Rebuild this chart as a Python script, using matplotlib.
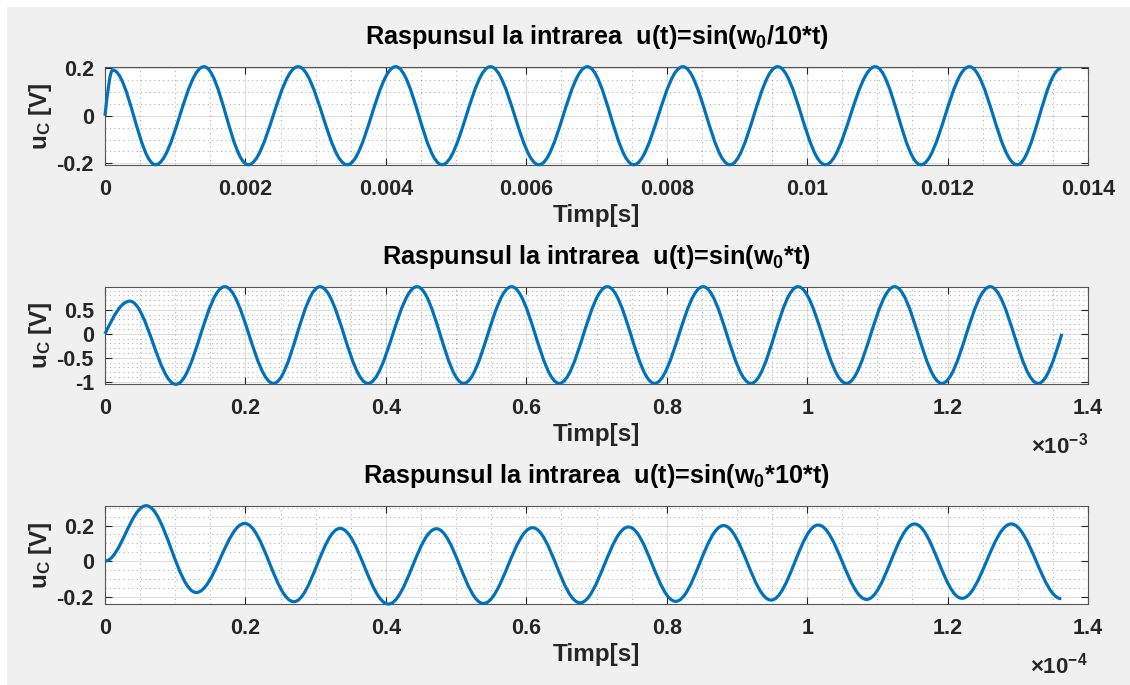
import numpy as np
import matplotlib
matplotlib.use("Agg")
import matplotlib.pyplot as plt
from matplotlib.path import Path
from matplotlib.patches import PathPatch, Rectangle
from matplotlib.ticker import FixedLocator, FixedFormatter, MultipleLocator

plt.rcParams['font.family'] = ['Liberation Sans', 'DejaVu Sans']
plt.rcParams['font.weight'] = 'bold'
plt.rcParams['mathtext.fontset'] = 'custom'
plt.rcParams['mathtext.rm'] = 'Liberation Sans:bold'
plt.rcParams['mathtext.bf'] = 'Liberation Sans:bold'
plt.rcParams['mathtext.it'] = 'Liberation Sans:bold'

# ---------------- data (key points: start, extrema, end) ----------------
# Panel 1: input u(t)=sin(w0/10*t), time in seconds
t1 = [0, 0.00011, 0.00072, 0.00141, 0.00204, 0.00275, 0.00345, 0.00414, 0.00480,
      0.00549, 0.00618, 0.00687, 0.00753, 0.00823, 0.00890, 0.00958, 0.01026,
      0.01097, 0.01162, 0.01231, 0.01299, 0.01362]
u1 = [0, 0.193, -0.206, 0.207, -0.206, 0.207, -0.206, 0.207, -0.206, 0.207, -0.206,
      0.207, -0.206, 0.207, -0.206, 0.207, -0.206, 0.207, -0.206, 0.207, -0.206, 0.200]

# Panel 2: input u(t)=sin(w0*t), time in units of 1e-3 s
t2_ms = [0, 0.0353, 0.101, 0.1705, 0.240, 0.3063, 0.3746, 0.4444, 0.5108, 0.579, 0.647,
         0.7154, 0.7827, 0.8518, 0.920, 0.987, 1.056, 1.1246, 1.192, 1.2607, 1.329, 1.3628]
u2 = [0, 0.68, -1.05, 0.98, -1.03, 0.98, -1.03, 0.98, -1.03, 0.98, -1.03,
      0.98, -1.03, 0.98, -1.03, 0.98, -1.03, 0.98, -1.03, 0.98, -1.03, 0]

# Panel 3: input u(t)=sin(w0*10*t), time in units of 1e-4 s
t3_e4 = [0, 0.0587, 0.130, 0.199, 0.269, 0.3348, 0.4037, 0.472, 0.539, 0.609, 0.6766,
         0.7456, 0.8128, 0.881, 0.9487, 1.0157, 1.0848, 1.153, 1.2205, 1.2906, 1.362]
u3 = [0, 0.312, -0.177, 0.212, -0.229, 0.184, -0.242, 0.182, -0.239, 0.188, -0.235,
      0.192, -0.227, 0.200, -0.220, 0.203, -0.216, 0.209, -0.210, 0.209, -0.212]

titles = ['Raspunsul la intrarea  u(t)=sin(w$_{0}$/10*t)',
          'Raspunsul la intrarea  u(t)=sin(w$_{0}$*t)',
          'Raspunsul la intrarea  u(t)=sin(w$_{0}$*10*t)']
xlabel = 'Timp[s]'
ylabel = 'u$_{C}$ [V]'

x1_ticks = [0, 0.002, 0.004, 0.006, 0.008, 0.010, 0.012, 0.014]
x1_labels = ['0', '0.002', '0.004', '0.006', '0.008', '0.01', '0.012', '0.014']
x23_ticks = [0, 0.2, 0.4, 0.6, 0.8, 1.0, 1.2, 1.4]
x23_labels = ['0', '0.2', '0.4', '0.6', '0.8', '1', '1.2', '1.4']
y1_ticks = [-0.2, 0, 0.2]
y1_labels = ['-0.2', '0', '0.2']
y2_ticks = [-1, -0.5, 0, 0.5]
y2_labels = ['-1', '-0.5', '0', '0.5']
y3_ticks = [-0.2, 0, 0.2]
y3_labels = ['-0.2', '0', '0.2']
offsets = [None, '×10$^{-3}$', '×10$^{-4}$']
scales = [1.0, 1e-3, 1e-4]

# ---------------- styling ----------------
LINE = '#0072BD'
BG = '#f0f0f0'
TICK_FS = 15.5
TITLE_FS = 18.2
LABEL_FS = 17.5


def wave_path(t, u, start='flat', end='flat'):
    """Smooth curve through the key points (horizontal tangents at extrema)."""
    verts = [(t[0], u[0])]
    codes = [Path.MOVETO]
    n = len(t)
    for i in range(n - 1):
        t0, u0, tt, uu = t[i], u[i], t[i + 1], u[i + 1]
        dt, du = tt - t0, uu - u0
        s0 = start if i == 0 else 'flat'
        s1 = end if i == n - 2 else 'flat'
        if s0 == 'steep':
            c1 = (t0 + 0.3343 * dt, u0 + 0.5251 * du)
            c2 = (t0 + 0.6479 * dt, uu)
        elif s1 == 'steep':
            c1 = (t0 + 0.3521 * dt, u0)
            c2 = (tt - 0.3343 * dt, uu - 0.5251 * du)
        else:
            c1 = (t0 + 0.3634 * dt, u0)
            c2 = (tt - 0.3634 * dt, uu)
        verts += [c1, c2, (tt, uu)]
        codes += [Path.CURVE4] * 3
    return Path(verts, codes)


fig = plt.figure(figsize=(11.30, 6.85), dpi=100, facecolor='white')
fig.patches.append(Rectangle((7 / 1130, 0), 1, 678 / 685, transform=fig.transFigure,
                             facecolor=BG, edgecolor='none', zorder=-10))

W = 1130.0
H = 685.0
left_px, right_px = 105, 1088
rows_px = [(66.7, 164.7), (286.7, 384.3), (505.7, 604.0)]

panels = [
    (np.array(t1) * scales[0], u1, x1_ticks, x1_labels, y1_ticks, y1_labels, 0.0005, 0.05, 'steep', 'flat'),
    (np.array(t2_ms) * scales[1], u2, x23_ticks, x23_labels, y2_ticks, y2_labels, 0.05, 0.1, 'steep', 'steep'),
    (np.array(t3_e4) * scales[2], u3, x23_ticks, x23_labels, y3_ticks, y3_labels, 0.05, 0.05, 'flat', 'flat'),
]

for k, (t, u, xt, xl, yt, yl, xminor, yminor, st, en) in enumerate(panels):
    top, bot = rows_px[k]
    ax = fig.add_axes([left_px / W, 1 - bot / H, (right_px - left_px) / W, (bot - top) / H])
    ax.set_facecolor('white')
    sc = scales[k]
    ax.set_xlim(0, 0.014 if k == 0 else 1.4 * sc)
    ax.set_ylim(min(u), max(u))

    ax.xaxis.set_major_locator(FixedLocator(np.array(xt) * sc))
    ax.xaxis.set_major_formatter(FixedFormatter(xl))
    ax.yaxis.set_major_locator(FixedLocator(yt))
    ax.yaxis.set_major_formatter(FixedFormatter(yl))
    ax.xaxis.set_minor_locator(MultipleLocator(xminor * sc))
    ax.yaxis.set_minor_locator(MultipleLocator(yminor))

    ax.grid(True, which='major', color='#262626', alpha=0.15, lw=0.8, ls='-')
    ax.grid(True, which='minor', color='#262626', alpha=0.35, lw=0.8, ls=(0, (1, 3)))
    ax.set_axisbelow(True)

    ax.tick_params(which='major', direction='in', length=5, width=0.8, color='#262626',
                   top=True, right=True, labelsize=TICK_FS, pad=8)
    ax.tick_params(axis='x', which='major', pad=10)
    ax.tick_params(which='minor', length=0, top=True, right=True)
    for lab in ax.get_xticklabels() + ax.get_yticklabels():
        lab.set_fontweight('bold')
        lab.set_color('#262626')
    for sp in ax.spines.values():
        sp.set_color('#555555')
        sp.set_linewidth(0.8)

    path = wave_path(list(t), list(u), start=st, end=en)
    ax.add_patch(PathPatch(path, fill=False, edgecolor=LINE, lw=2.3,
                           capstyle='butt', joinstyle='round', clip_on=False, zorder=3))

    ax.annotate(titles[k], xy=(0.5, 1), xycoords='axes fraction', xytext=(0, 16.5),
                textcoords='offset points', ha='center', va='baseline',
                fontsize=TITLE_FS, fontweight='bold', color='black')
    ax.annotate(xlabel, xy=(0.5, 0), xycoords='axes fraction', xytext=(0, -41),
                textcoords='offset points', ha='center', va='baseline',
                fontsize=LABEL_FS, fontweight='bold', color='#262626')
    ax.text(-64 / 983, 0.5, ylabel, transform=ax.transAxes, rotation=90,
            ha='center', va='center', fontsize=LABEL_FS, fontweight='bold', color='#262626')
    if offsets[k]:
        ax.annotate(offsets[k], xy=(1, 0), xycoords='axes fraction', xytext=(0, -50),
                    textcoords='offset points', ha='right', va='baseline',
                    fontsize=TICK_FS + 0.5, fontweight='bold', color='#262626')

fig.savefig('out.png', dpi=100, facecolor=fig.get_facecolor())
